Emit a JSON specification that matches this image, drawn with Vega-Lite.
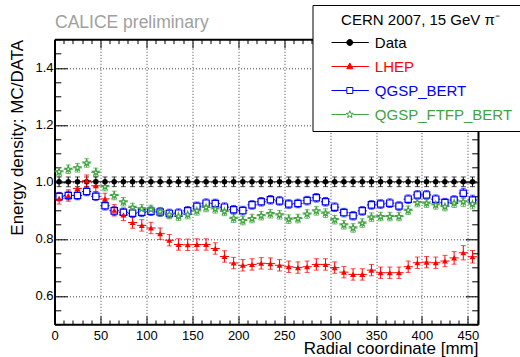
{
  "$schema": "https://vega.github.io/schema/vega-lite/v6.json",
  "width": 423.5,
  "height": 285,
  "autosize": "none",
  "padding": {"left": 54.5, "top": 39.3, "right": 42, "bottom": 32.7},
  "background": "white",
  "config": {
    "font": "Liberation Sans",
    "view": {"stroke": null},
    "axis": {"labelFont": "Liberation Sans", "titleFont": "Liberation Sans", "labelColor": "black", "titleColor": "black", "tickColor": "black", "domainColor": "black"}
  },
  "data": {"values": [
    {"s":"Data","r":5,"v":1,"ey":0.017,"ex":5},{"s":"Data","r":15,"v":1,"ey":0.017,"ex":5},{"s":"Data","r":25,"v":1,"ey":0.017,"ex":5},{"s":"Data","r":35,"v":1,"ey":0.017,"ex":5},{"s":"Data","r":45,"v":1,"ey":0.017,"ex":5},{"s":"Data","r":55,"v":1,"ey":0.017,"ex":5},{"s":"Data","r":65,"v":1,"ey":0.017,"ex":5},{"s":"Data","r":75,"v":1,"ey":0.017,"ex":5},{"s":"Data","r":85,"v":1,"ey":0.017,"ex":5},{"s":"Data","r":95,"v":1,"ey":0.017,"ex":5},{"s":"Data","r":105,"v":1,"ey":0.017,"ex":5},{"s":"Data","r":115,"v":1,"ey":0.017,"ex":5},{"s":"Data","r":125,"v":1,"ey":0.017,"ex":5},{"s":"Data","r":135,"v":1,"ey":0.017,"ex":5},{"s":"Data","r":145,"v":1,"ey":0.017,"ex":5},{"s":"Data","r":155,"v":1,"ey":0.017,"ex":5},{"s":"Data","r":165,"v":1,"ey":0.017,"ex":5},{"s":"Data","r":175,"v":1,"ey":0.017,"ex":5},{"s":"Data","r":185,"v":1,"ey":0.017,"ex":5},{"s":"Data","r":195,"v":1,"ey":0.017,"ex":5},{"s":"Data","r":205,"v":1,"ey":0.017,"ex":5},{"s":"Data","r":215,"v":1,"ey":0.017,"ex":5},{"s":"Data","r":225,"v":1,"ey":0.017,"ex":5},{"s":"Data","r":235,"v":1,"ey":0.017,"ex":5},{"s":"Data","r":245,"v":1,"ey":0.017,"ex":5},{"s":"Data","r":255,"v":1,"ey":0.017,"ex":5},{"s":"Data","r":265,"v":1,"ey":0.017,"ex":5},{"s":"Data","r":275,"v":1,"ey":0.017,"ex":5},{"s":"Data","r":285,"v":1,"ey":0.017,"ex":5},{"s":"Data","r":295,"v":1,"ey":0.017,"ex":5},{"s":"Data","r":305,"v":1,"ey":0.017,"ex":5},{"s":"Data","r":315,"v":1,"ey":0.017,"ex":5},{"s":"Data","r":325,"v":1,"ey":0.017,"ex":5},{"s":"Data","r":335,"v":1,"ey":0.017,"ex":5},{"s":"Data","r":345,"v":1,"ey":0.017,"ex":5},{"s":"Data","r":355,"v":1,"ey":0.017,"ex":5},{"s":"Data","r":365,"v":1,"ey":0.017,"ex":5},{"s":"Data","r":375,"v":1,"ey":0.017,"ex":5},{"s":"Data","r":385,"v":1,"ey":0.017,"ex":5},{"s":"Data","r":395,"v":1,"ey":0.017,"ex":5},{"s":"Data","r":405,"v":1,"ey":0.017,"ex":5},{"s":"Data","r":415,"v":1,"ey":0.017,"ex":5},{"s":"Data","r":425,"v":1,"ey":0.017,"ex":5},{"s":"Data","r":435,"v":1,"ey":0.017,"ex":5},{"s":"Data","r":445,"v":1,"ey":0.017,"ex":5},{"s":"Data","r":455,"v":1,"ey":0.017,"ex":5},
    {"s":"LHEP","r":5,"v":0.942,"ey":0.02,"ex":5},{"s":"LHEP","r":15,"v":0.952,"ey":0.02,"ex":5},{"s":"LHEP","r":25,"v":0.977,"ey":0.02,"ex":5},{"s":"LHEP","r":35,"v":1.004,"ey":0.02,"ex":5},{"s":"LHEP","r":45,"v":0.986,"ey":0.02,"ex":5},{"s":"LHEP","r":55,"v":0.94,"ey":0.02,"ex":5},{"s":"LHEP","r":65,"v":0.9,"ey":0.02,"ex":5},{"s":"LHEP","r":75,"v":0.884,"ey":0.02,"ex":5},{"s":"LHEP","r":85,"v":0.857,"ey":0.02,"ex":5},{"s":"LHEP","r":95,"v":0.847,"ey":0.02,"ex":5},{"s":"LHEP","r":105,"v":0.838,"ey":0.02,"ex":5},{"s":"LHEP","r":115,"v":0.818,"ey":0.02,"ex":5},{"s":"LHEP","r":125,"v":0.795,"ey":0.02,"ex":5},{"s":"LHEP","r":135,"v":0.78,"ey":0.02,"ex":5},{"s":"LHEP","r":145,"v":0.779,"ey":0.02,"ex":5},{"s":"LHEP","r":155,"v":0.78,"ey":0.02,"ex":5},{"s":"LHEP","r":165,"v":0.78,"ey":0.02,"ex":5},{"s":"LHEP","r":175,"v":0.766,"ey":0.02,"ex":5},{"s":"LHEP","r":185,"v":0.738,"ey":0.02,"ex":5},{"s":"LHEP","r":195,"v":0.715,"ey":0.02,"ex":5},{"s":"LHEP","r":205,"v":0.707,"ey":0.02,"ex":5},{"s":"LHEP","r":215,"v":0.71,"ey":0.02,"ex":5},{"s":"LHEP","r":225,"v":0.714,"ey":0.02,"ex":5},{"s":"LHEP","r":235,"v":0.713,"ey":0.02,"ex":5},{"s":"LHEP","r":245,"v":0.707,"ey":0.02,"ex":5},{"s":"LHEP","r":255,"v":0.702,"ey":0.02,"ex":5},{"s":"LHEP","r":265,"v":0.699,"ey":0.02,"ex":5},{"s":"LHEP","r":275,"v":0.702,"ey":0.02,"ex":5},{"s":"LHEP","r":285,"v":0.71,"ey":0.02,"ex":5},{"s":"LHEP","r":295,"v":0.71,"ey":0.02,"ex":5},{"s":"LHEP","r":305,"v":0.699,"ey":0.02,"ex":5},{"s":"LHEP","r":315,"v":0.683,"ey":0.02,"ex":5},{"s":"LHEP","r":325,"v":0.675,"ey":0.02,"ex":5},{"s":"LHEP","r":335,"v":0.675,"ey":0.02,"ex":5},{"s":"LHEP","r":345,"v":0.69,"ey":0.02,"ex":5},{"s":"LHEP","r":355,"v":0.681,"ey":0.02,"ex":5},{"s":"LHEP","r":365,"v":0.681,"ey":0.02,"ex":5},{"s":"LHEP","r":375,"v":0.681,"ey":0.02,"ex":5},{"s":"LHEP","r":385,"v":0.702,"ey":0.02,"ex":5},{"s":"LHEP","r":395,"v":0.716,"ey":0.02,"ex":5},{"s":"LHEP","r":405,"v":0.718,"ey":0.02,"ex":5},{"s":"LHEP","r":415,"v":0.716,"ey":0.02,"ex":5},{"s":"LHEP","r":425,"v":0.722,"ey":0.02,"ex":5},{"s":"LHEP","r":435,"v":0.733,"ey":0.022,"ex":5},{"s":"LHEP","r":445,"v":0.751,"ey":0.025,"ex":5},{"s":"LHEP","r":455,"v":0.737,"ey":0.022,"ex":5},
    {"s":"QGSP_BERT","r":5,"v":0.948,"ey":0.015,"ex":5},{"s":"QGSP_BERT","r":15,"v":0.952,"ey":0.015,"ex":5},{"s":"QGSP_BERT","r":25,"v":0.952,"ey":0.015,"ex":5},{"s":"QGSP_BERT","r":35,"v":0.966,"ey":0.015,"ex":5},{"s":"QGSP_BERT","r":45,"v":0.949,"ey":0.015,"ex":5},{"s":"QGSP_BERT","r":55,"v":0.916,"ey":0.015,"ex":5},{"s":"QGSP_BERT","r":65,"v":0.898,"ey":0.015,"ex":5},{"s":"QGSP_BERT","r":75,"v":0.893,"ey":0.015,"ex":5},{"s":"QGSP_BERT","r":85,"v":0.89,"ey":0.015,"ex":5},{"s":"QGSP_BERT","r":95,"v":0.893,"ey":0.015,"ex":5},{"s":"QGSP_BERT","r":105,"v":0.897,"ey":0.015,"ex":5},{"s":"QGSP_BERT","r":115,"v":0.894,"ey":0.015,"ex":5},{"s":"QGSP_BERT","r":125,"v":0.889,"ey":0.015,"ex":5},{"s":"QGSP_BERT","r":135,"v":0.89,"ey":0.015,"ex":5},{"s":"QGSP_BERT","r":145,"v":0.898,"ey":0.015,"ex":5},{"s":"QGSP_BERT","r":155,"v":0.914,"ey":0.015,"ex":5},{"s":"QGSP_BERT","r":165,"v":0.925,"ey":0.015,"ex":5},{"s":"QGSP_BERT","r":175,"v":0.924,"ey":0.015,"ex":5},{"s":"QGSP_BERT","r":185,"v":0.911,"ey":0.015,"ex":5},{"s":"QGSP_BERT","r":195,"v":0.902,"ey":0.015,"ex":5},{"s":"QGSP_BERT","r":205,"v":0.899,"ey":0.015,"ex":5},{"s":"QGSP_BERT","r":215,"v":0.919,"ey":0.015,"ex":5},{"s":"QGSP_BERT","r":225,"v":0.93,"ey":0.015,"ex":5},{"s":"QGSP_BERT","r":235,"v":0.937,"ey":0.015,"ex":5},{"s":"QGSP_BERT","r":245,"v":0.933,"ey":0.015,"ex":5},{"s":"QGSP_BERT","r":255,"v":0.922,"ey":0.015,"ex":5},{"s":"QGSP_BERT","r":265,"v":0.924,"ey":0.015,"ex":5},{"s":"QGSP_BERT","r":275,"v":0.934,"ey":0.015,"ex":5},{"s":"QGSP_BERT","r":285,"v":0.944,"ey":0.015,"ex":5},{"s":"QGSP_BERT","r":295,"v":0.93,"ey":0.015,"ex":5},{"s":"QGSP_BERT","r":305,"v":0.911,"ey":0.015,"ex":5},{"s":"QGSP_BERT","r":315,"v":0.892,"ey":0.015,"ex":5},{"s":"QGSP_BERT","r":325,"v":0.881,"ey":0.015,"ex":5},{"s":"QGSP_BERT","r":335,"v":0.898,"ey":0.015,"ex":5},{"s":"QGSP_BERT","r":345,"v":0.919,"ey":0.015,"ex":5},{"s":"QGSP_BERT","r":355,"v":0.922,"ey":0.015,"ex":5},{"s":"QGSP_BERT","r":365,"v":0.925,"ey":0.015,"ex":5},{"s":"QGSP_BERT","r":375,"v":0.915,"ey":0.015,"ex":5},{"s":"QGSP_BERT","r":385,"v":0.939,"ey":0.015,"ex":5},{"s":"QGSP_BERT","r":395,"v":0.954,"ey":0.015,"ex":5},{"s":"QGSP_BERT","r":405,"v":0.954,"ey":0.015,"ex":5},{"s":"QGSP_BERT","r":415,"v":0.939,"ey":0.015,"ex":5},{"s":"QGSP_BERT","r":425,"v":0.927,"ey":0.015,"ex":5},{"s":"QGSP_BERT","r":435,"v":0.936,"ey":0.015,"ex":5},{"s":"QGSP_BERT","r":445,"v":0.96,"ey":0.017,"ex":5},{"s":"QGSP_BERT","r":455,"v":0.936,"ey":0.017,"ex":5},
    {"s":"QGSP_FTFP_BERT","r":5,"v":1.035,"ey":0.015,"ex":5},{"s":"QGSP_FTFP_BERT","r":15,"v":1.044,"ey":0.015,"ex":5},{"s":"QGSP_FTFP_BERT","r":25,"v":1.049,"ey":0.015,"ex":5},{"s":"QGSP_FTFP_BERT","r":35,"v":1.066,"ey":0.015,"ex":5},{"s":"QGSP_FTFP_BERT","r":45,"v":1.033,"ey":0.015,"ex":5},{"s":"QGSP_FTFP_BERT","r":55,"v":0.983,"ey":0.015,"ex":5},{"s":"QGSP_FTFP_BERT","r":65,"v":0.952,"ey":0.015,"ex":5},{"s":"QGSP_FTFP_BERT","r":75,"v":0.93,"ey":0.015,"ex":5},{"s":"QGSP_FTFP_BERT","r":85,"v":0.91,"ey":0.015,"ex":5},{"s":"QGSP_FTFP_BERT","r":95,"v":0.905,"ey":0.015,"ex":5},{"s":"QGSP_FTFP_BERT","r":105,"v":0.903,"ey":0.015,"ex":5},{"s":"QGSP_FTFP_BERT","r":115,"v":0.895,"ey":0.015,"ex":5},{"s":"QGSP_FTFP_BERT","r":125,"v":0.885,"ey":0.015,"ex":5},{"s":"QGSP_FTFP_BERT","r":135,"v":0.879,"ey":0.015,"ex":5},{"s":"QGSP_FTFP_BERT","r":145,"v":0.885,"ey":0.015,"ex":5},{"s":"QGSP_FTFP_BERT","r":155,"v":0.898,"ey":0.015,"ex":5},{"s":"QGSP_FTFP_BERT","r":165,"v":0.91,"ey":0.015,"ex":5},{"s":"QGSP_FTFP_BERT","r":175,"v":0.905,"ey":0.015,"ex":5},{"s":"QGSP_FTFP_BERT","r":185,"v":0.896,"ey":0.015,"ex":5},{"s":"QGSP_FTFP_BERT","r":195,"v":0.872,"ey":0.015,"ex":5},{"s":"QGSP_FTFP_BERT","r":205,"v":0.864,"ey":0.015,"ex":5},{"s":"QGSP_FTFP_BERT","r":215,"v":0.871,"ey":0.015,"ex":5},{"s":"QGSP_FTFP_BERT","r":225,"v":0.881,"ey":0.015,"ex":5},{"s":"QGSP_FTFP_BERT","r":235,"v":0.888,"ey":0.015,"ex":5},{"s":"QGSP_FTFP_BERT","r":245,"v":0.884,"ey":0.015,"ex":5},{"s":"QGSP_FTFP_BERT","r":255,"v":0.869,"ey":0.015,"ex":5},{"s":"QGSP_FTFP_BERT","r":265,"v":0.871,"ey":0.015,"ex":5},{"s":"QGSP_FTFP_BERT","r":275,"v":0.887,"ey":0.015,"ex":5},{"s":"QGSP_FTFP_BERT","r":285,"v":0.898,"ey":0.015,"ex":5},{"s":"QGSP_FTFP_BERT","r":295,"v":0.89,"ey":0.015,"ex":5},{"s":"QGSP_FTFP_BERT","r":305,"v":0.867,"ey":0.015,"ex":5},{"s":"QGSP_FTFP_BERT","r":315,"v":0.849,"ey":0.015,"ex":5},{"s":"QGSP_FTFP_BERT","r":325,"v":0.838,"ey":0.015,"ex":5},{"s":"QGSP_FTFP_BERT","r":335,"v":0.855,"ey":0.015,"ex":5},{"s":"QGSP_FTFP_BERT","r":345,"v":0.876,"ey":0.015,"ex":5},{"s":"QGSP_FTFP_BERT","r":355,"v":0.878,"ey":0.015,"ex":5},{"s":"QGSP_FTFP_BERT","r":365,"v":0.878,"ey":0.015,"ex":5},{"s":"QGSP_FTFP_BERT","r":375,"v":0.878,"ey":0.015,"ex":5},{"s":"QGSP_FTFP_BERT","r":385,"v":0.9,"ey":0.015,"ex":5},{"s":"QGSP_FTFP_BERT","r":395,"v":0.927,"ey":0.015,"ex":5},{"s":"QGSP_FTFP_BERT","r":405,"v":0.925,"ey":0.015,"ex":5},{"s":"QGSP_FTFP_BERT","r":415,"v":0.919,"ey":0.015,"ex":5},{"s":"QGSP_FTFP_BERT","r":425,"v":0.913,"ey":0.015,"ex":5},{"s":"QGSP_FTFP_BERT","r":435,"v":0.925,"ey":0.015,"ex":5},{"s":"QGSP_FTFP_BERT","r":445,"v":0.93,"ey":0.017,"ex":5},{"s":"QGSP_FTFP_BERT","r":455,"v":0.922,"ey":0.017,"ex":5}
  ]},
  "resolve": {"axis": {"x": "independent", "y": "independent"}, "scale": {"color": "independent", "shape": "independent", "size": "independent"}, "legend": {"color": "independent", "shape": "independent", "size": "independent"}},
  "layer": [
    {
      "mark": {"type": "line", "opacity": 0},
      "encoding": {
        "x": {"field": "r", "type": "quantitative", "scale": {"domain": [0, 461], "nice": false, "zero": false},
          "axis": {"orient": "top", "values": [0,10,20,30,40,50,60,70,80,90,100,110,120,130,140,150,160,170,180,190,200,210,220,230,240,250,260,270,280,290,300,310,320,330,340,350,360,370,380,390,400,410,420,430,440,450,460],
            "labels": false, "grid": false, "domainWidth": 2, "tickWidth": 1,
            "title": "CALICE preliminary", "titleAnchor": "start", "titleAlign": "left", "titleBaseline": "alphabetic", "titlePadding": 11, "titleColor": "#a0a0a0", "titleFontSize": 17.5, "titleFontWeight": "normal",
            "tickSize": {"condition": {"test": "datum.value % 50 === 0", "value": -8.5}, "value": -4.3}}},
        "y": {"field": "v", "type": "quantitative", "scale": {"domain": [0.5, 1.5], "nice": false, "zero": false},
          "axis": {"orient": "right", "values": [0.5,0.55,0.6,0.65,0.7,0.75,0.8,0.85,0.9,0.95,1,1.05,1.1,1.15,1.2,1.25,1.3,1.35,1.4,1.45,1.5],
            "labels": false, "title": null, "grid": false, "domainWidth": 2, "tickWidth": 1,
            "tickSize": {"condition": {"test": "abs(datum.value*5 - round(datum.value*5)) < 0.01", "value": -12.7}, "value": -6.3}}},
        "color": {"field": "s", "type": "nominal",
          "scale": {"domain": ["Data", "LHEP", "QGSP_BERT", "QGSP_FTFP_BERT"], "range": ["#000000", "#ff0000", "#0000ff", "#3fa33f"]},
          "legend": {"orient": "none", "legendX": 258, "legendY": -34.3,
            "title": "\u200b\u00a0\u00a0\u00a0\u00a0\u00a0CERN 2007, 15 GeV π⁻\u00a0\u00a0\u00a0\u00a0\u00a0\u200b", "titleLimit": 400, "titleAnchor": "middle", "titleFontSize": 15, "titleFontWeight": "normal", "titleColor": "black", "titleFont": "Liberation Sans", "titlePadding": 7,
            "labelFontSize": 15, "labelFont": "Liberation Sans", "labelOffset": 30.3, "labelLimit": 300,
            "labelColor": {"expr": "datum.value === 'Data' ? '#000000' : datum.value === 'LHEP' ? '#ff0000' : datum.value === 'QGSP_BERT' ? '#0000ff' : '#3fa33f'"},
            "symbolType": {"expr": "datum.value === 'Data' ? 'M-1.1,0L6.36,0M1.96,0A0.6,0.6 0 1 0 3.16,0A0.6,0.6 0 1 0 1.96,0Z' : datum.value === 'LHEP' ? 'M-1.1,0L6.36,0M2.56,-0.7L3.16,0.45L1.96,0.45Z' : datum.value === 'QGSP_BERT' ? 'M-1.1,0L1.96,0M3.16,0L6.36,0M1.96,-0.6L3.16,-0.6L3.16,0.6L1.96,0.6Z' : 'M-1.1,0L1.85,0M3.27,0L6.36,0M2.56,-0.75L2.736,-0.243L3.273,-0.232L2.845,0.093L3.001,0.607L2.56,0.3L2.119,0.607L2.275,0.093L1.847,-0.232L2.384,-0.243Z'"},
            "symbolFillColor": {"expr": "datum.value === 'Data' ? '#000000' : datum.value === 'LHEP' ? '#ff0000' : 'transparent'"},
            "symbolStrokeColor": {"expr": "datum.value === 'Data' ? '#000000' : datum.value === 'LHEP' ? '#ff0000' : datum.value === 'QGSP_BERT' ? '#0000ff' : '#3fa33f'"},
            "symbolStrokeWidth": 1,
            "strokeColor": "black", "fillColor": "white", "padding": 8, "rowPadding": 8, "symbolSize": 100, "symbolOpacity": 1}}
      }
    },
    {
      "mark": {"type": "errorbar", "thickness": 1},
      "encoding": {
        "x": {"field": "r", "type": "quantitative", "axis": null},
        "xError": {"field": "ex"},
        "y": {"field": "v", "type": "quantitative", "axis": null},
        "color": {"field": "s", "type": "nominal", "legend": null,
          "scale": {"domain": ["Data", "LHEP", "QGSP_BERT", "QGSP_FTFP_BERT"], "range": ["#000000", "#ff0000", "#0000ff", "#3fa33f"]}}
      }
    },
    {
      "mark": {"type": "errorbar", "thickness": 1, "ticks": {"size": 5}},
      "encoding": {
        "x": {"field": "r", "type": "quantitative", "axis": null},
        "y": {"field": "v", "type": "quantitative", "axis": null},
        "yError": {"field": "ey"},
        "color": {"field": "s", "type": "nominal", "legend": null,
          "scale": {"domain": ["Data", "LHEP", "QGSP_BERT", "QGSP_FTFP_BERT"], "range": ["#000000", "#ff0000", "#0000ff", "#3fa33f"]}}
      }
    },
    {
      "mark": {"type": "point", "filled": false, "fill": "white", "strokeWidth": 1.2, "opacity": 1},
      "transform": [{"filter": {"field": "s", "oneOf": ["QGSP_BERT", "QGSP_FTFP_BERT"]}}],
      "encoding": {
        "x": {"field": "r", "type": "quantitative",
          "axis": {"orient": "bottom", "values": [0,10,20,30,40,50,60,70,80,90,100,110,120,130,140,150,160,170,180,190,200,210,220,230,240,250,260,270,280,290,300,310,320,330,340,350,360,370,380,390,400,410,420,430,440,450,460],
            "labelExpr": "datum.value % 50 === 0 ? datum.label : ''", "labelFontSize": 13, "labelPadding": 14, "labelFlush": false,
            "title": "Radial coordinate [mm]", "titleAnchor": "end", "titleFontSize": 17, "titleFontWeight": "normal", "titlePadding": -2,
            "domainWidth": 2, "tickWidth": 1,
            "tickSize": {"condition": {"test": "datum.value % 50 === 0", "value": -8.5}, "value": -4.3},
            "grid": true, "gridDash": [1, 2], "gridColor": "#444", "gridWidth": 1,
            "gridOpacity": {"condition": {"test": "datum.value % 50 === 0 && datum.value > 0", "value": 1}, "value": 0}}},
        "y": {"field": "v", "type": "quantitative",
          "axis": {"orient": "left", "values": [0.5,0.55,0.6,0.65,0.7,0.75,0.8,0.85,0.9,0.95,1,1.05,1.1,1.15,1.2,1.25,1.3,1.35,1.4,1.45,1.5],
            "labelExpr": "abs(datum.value*5 - round(datum.value*5)) < 0.01 ? format(datum.value, '.1f') : ''", "labelFontSize": 13, "labelPadding": 14.2, "labelFlush": false,
            "title": "Energy density: MC/DATA", "titleAnchor": "end", "titleFontSize": 17, "titleFontWeight": "normal", "titlePadding": 8,
            "domainWidth": 2, "tickWidth": 1,
            "tickSize": {"condition": {"test": "abs(datum.value*5 - round(datum.value*5)) < 0.01", "value": -12.7}, "value": -6.3},
            "grid": true, "gridDash": [1, 2], "gridColor": "#444", "gridWidth": 1,
            "gridOpacity": {"condition": {"test": "abs(datum.value*5 - round(datum.value*5)) < 0.01 && datum.value > 0.55 && datum.value < 1.45", "value": 1}, "value": 0}}},
        "color": {"field": "s", "type": "nominal", "legend": null,
          "scale": {"domain": ["Data", "LHEP", "QGSP_BERT", "QGSP_FTFP_BERT"], "range": ["#000000", "#ff0000", "#0000ff", "#3fa33f"]}},
        "shape": {"field": "s", "type": "nominal", "legend": null,
          "scale": {"domain": ["Data", "LHEP", "QGSP_BERT", "QGSP_FTFP_BERT"], "range": ["circle", "triangle-up", "square", "M0,-1L0.235,-0.324L0.951,-0.309L0.38,0.124L0.588,0.809L0,0.4L-0.588,0.809L-0.38,0.124L-0.951,-0.309L-0.235,-0.324Z"]}},
        "size": {"field": "s", "type": "ordinal", "legend": null,
          "scale": {"domain": ["Data", "LHEP", "QGSP_BERT", "QGSP_FTFP_BERT"], "range": [30, 45, 45, 60]}}
      }
    },
    {
      "mark": {"type": "point", "filled": true, "opacity": 1},
      "transform": [{"filter": {"field": "s", "oneOf": ["Data", "LHEP"]}}],
      "encoding": {
        "x": {"field": "r", "type": "quantitative", "axis": null},
        "y": {"field": "v", "type": "quantitative", "axis": null},
        "color": {"field": "s", "type": "nominal", "legend": null,
          "scale": {"domain": ["Data", "LHEP", "QGSP_BERT", "QGSP_FTFP_BERT"], "range": ["#000000", "#ff0000", "#0000ff", "#3fa33f"]}},
        "shape": {"field": "s", "type": "nominal", "legend": null,
          "scale": {"domain": ["Data", "LHEP", "QGSP_BERT", "QGSP_FTFP_BERT"], "range": ["circle", "triangle-up", "square", "M0,-1L0.235,-0.324L0.951,-0.309L0.38,0.124L0.588,0.809L0,0.4L-0.588,0.809L-0.38,0.124L-0.951,-0.309L-0.235,-0.324Z"]}},
        "size": {"field": "s", "type": "ordinal", "legend": null,
          "scale": {"domain": ["Data", "LHEP", "QGSP_BERT", "QGSP_FTFP_BERT"], "range": [30, 45, 45, 60]}}
      }
    }
  ]
}
